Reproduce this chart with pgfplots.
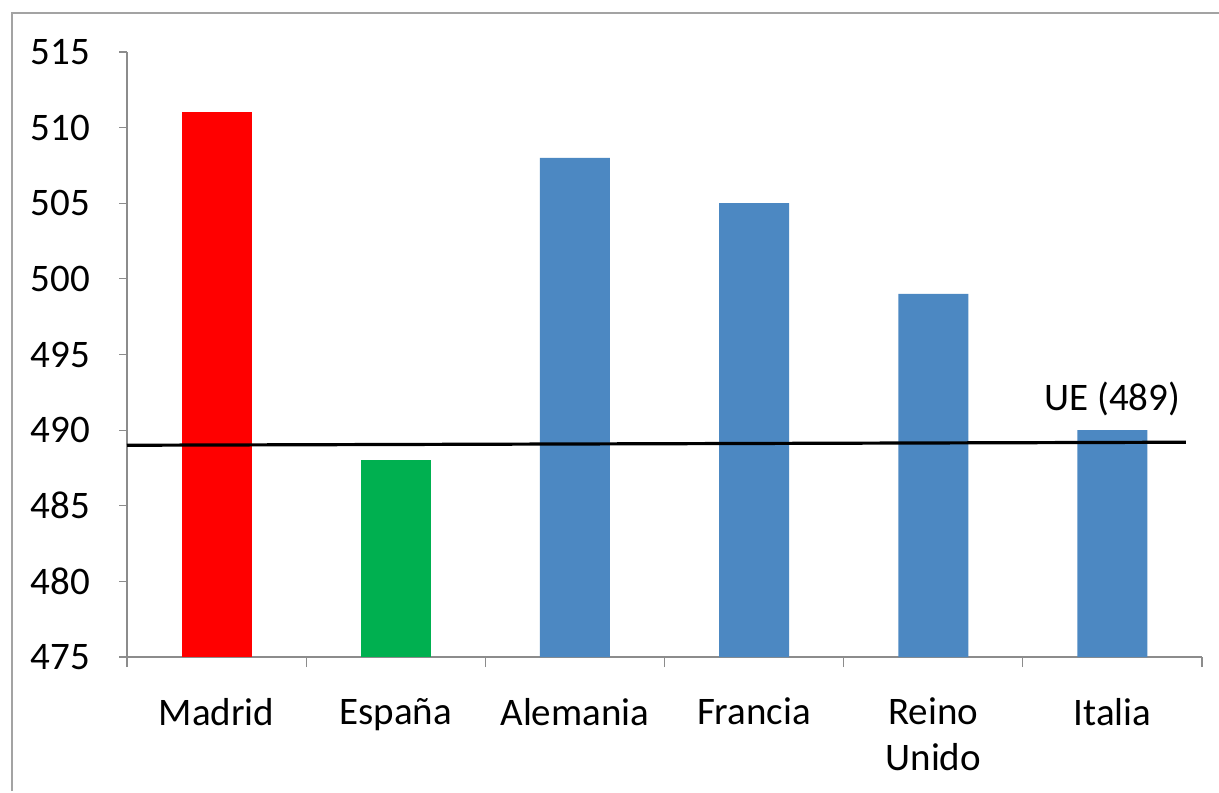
\documentclass[border=0pt]{standalone}
\usepackage{pgfplots}
\pgfplotsset{compat=1.18}
\usepackage{fontspec}
\setmainfont{Carlito}
\definecolor{madridred}{HTML}{FF0000}
\definecolor{espgreen}{HTML}{00B050}
\definecolor{eublue}{HTML}{4C88C2}
\definecolor{axisgray}{HTML}{8C8C8C}

\begin{document}
\begin{tikzpicture}
% page is 1219x792 px at 0.5pt per px
\useasboundingbox[fill=white] (0,0) rectangle (609.5pt,396pt);
% outer frame (only top and left edges show)
\draw[axisgray!80,line width=1.2pt] (6pt,0.5pt) -- (6pt,389.5pt) -- (609.5pt,389.5pt);
\begin{axis}[
    at={(63.5pt,67.5pt)}, anchor=south west,
    scale only axis,
    width=537.5pt, height=302.5pt,
    xmin=-0.5, xmax=5.5,
    ymin=475, ymax=515,
    ytick={475,480,...,515},
    xtick={0,...,5},
    xticklabels={Madrid,España,Alemania,Francia,{Reino\\Unido},Italia},
    xticklabel style={align=center, font=\fontsize{19.5}{23}\selectfont, yshift=-13pt},
    yticklabel style={font=\fontsize{19.5}{23}\selectfont, xshift=-11pt},
    /pgf/number format/assume math mode=true,
    minor xtick={-0.5,0.5,...,5.5},
    major x tick style={draw=none},
    minor tick length=5pt,
    major tick length=4pt,
    tick align=outside,
    tick style={axisgray, line width=0.6pt},
    axis x line*=bottom, axis y line*=left,
    axis line style={axisgray, line width=0.6pt, -},
    ybar, bar width=35pt, bar shift=0pt,
    clip=false,
    ]
\addplot[fill=madridred, draw=none] coordinates {(0,511)};
\addplot[fill=espgreen, draw=none] coordinates {(1,488)};
\addplot[fill=eublue, draw=none] coordinates {(2,508) (3,505) (4,499) (5,490)};
% EU average line
\addplot[sharp plot, black, line width=1.6pt] coordinates {(-0.5,489) (5.41,489.2)};
\node[font=\fontsize{19.5}{23}\selectfont, anchor=base] at (axis cs:5,491.3) {UE (489)};
\end{axis}
\end{tikzpicture}
\end{document}
